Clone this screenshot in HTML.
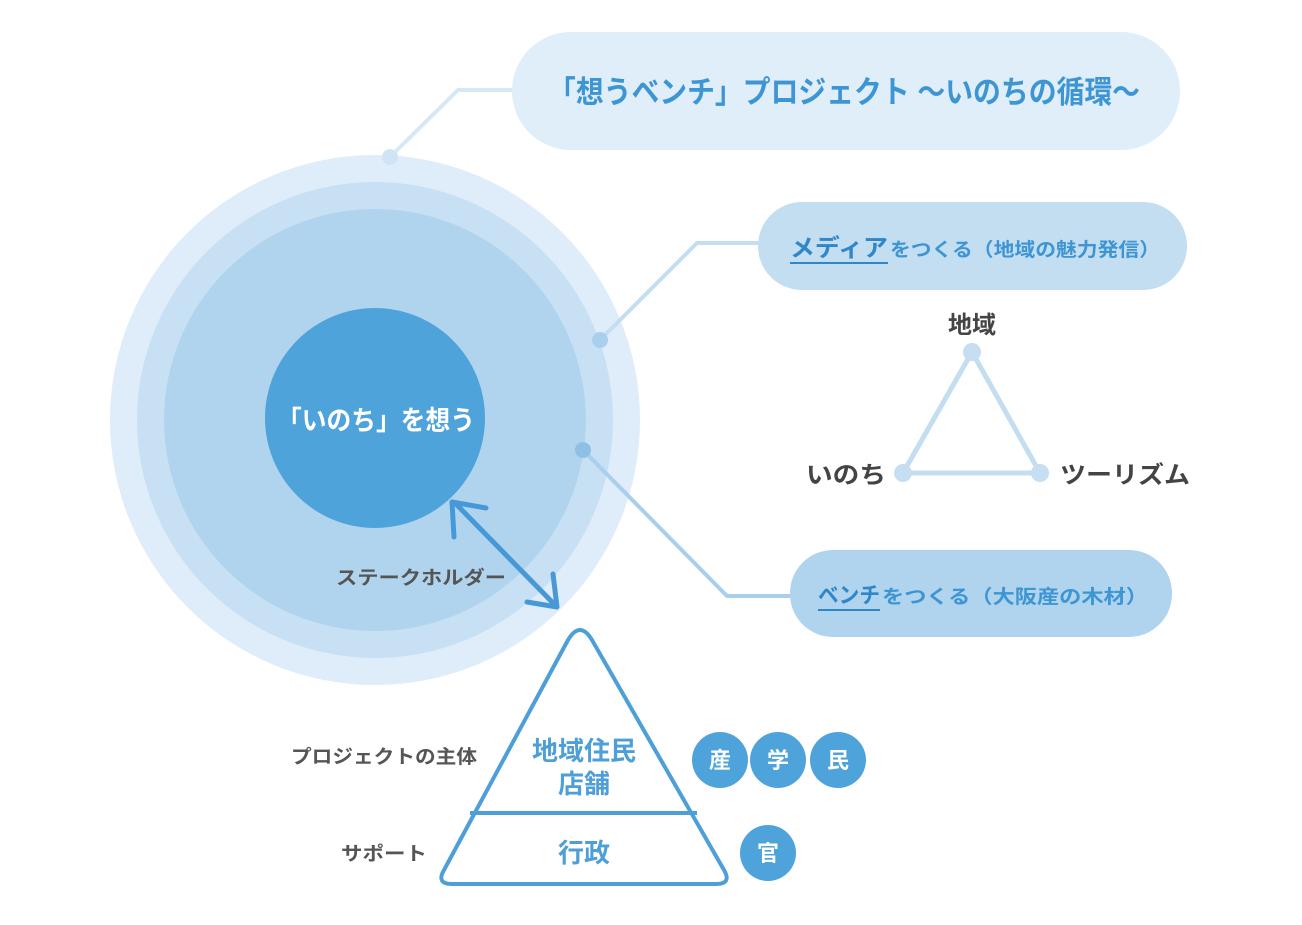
<!DOCTYPE html>
<html><head><meta charset="utf-8"><style>
body{margin:0;background:#fff}
text{font-family:"Liberation Sans","Noto Sans CJK JP",sans-serif;font-weight:bold}
</style></head><body>
<svg width="1302" height="920" viewBox="0 0 1302 920" xmlns="http://www.w3.org/2000/svg">
<rect width="1302" height="920" fill="#fff"/>
<polyline points="390,157 458,90 515,90" fill="none" stroke="#d6e8f6" stroke-width="4"/>
<rect x="512" y="32" width="668" height="118" rx="59" fill="#dfeef9"/>
<text x="548" y="103" font-size="31" fill="#3d95d3" textLength="592" lengthAdjust="spacingAndGlyphs">「想うベンチ」プロジェクト ～いのちの循環～</text>
<circle cx="375" cy="420" r="265" fill="#deedf9"/>
<circle cx="375" cy="420" r="238" fill="#c7e0f3"/>
<circle cx="375" cy="420" r="211" fill="#b1d4ee"/>
<circle cx="390" cy="157" r="8" fill="#cfe4f5"/>
<polyline points="600,340 697,243 760,243" fill="none" stroke="#c3ddf1" stroke-width="4"/>
<rect x="758" y="202" width="429" height="88" rx="44" fill="#c3ddf1"/>
<text x="790" y="256" font-size="24" fill="#2f87c9" textLength="98" lengthAdjust="spacingAndGlyphs">メディア</text>
<text x="890" y="256" font-size="19" fill="#3d95d3" textLength="270" lengthAdjust="spacingAndGlyphs">をつくる（地域の魅力発信）</text>
<line x1="790" y1="263" x2="888" y2="263" stroke="#2f87c9" stroke-width="2"/>
<circle cx="600" cy="340" r="8" fill="#a8cfec"/>
<polyline points="583,450 727,596 792,596" fill="none" stroke="#a9cfec" stroke-width="4"/>
<rect x="790" y="550" width="382" height="87" rx="43" fill="#b0d3ee"/>
<text x="818" y="603" font-size="22" fill="#2f87c9" textLength="62" lengthAdjust="spacingAndGlyphs">ベンチ</text>
<text x="882" y="603" font-size="19" fill="#3d95d3" textLength="266" lengthAdjust="spacingAndGlyphs">をつくる（大阪産の木材）</text>
<line x1="818" y1="610" x2="880" y2="610" stroke="#2f87c9" stroke-width="2"/>
<circle cx="583" cy="450" r="8" fill="#8ec0e6"/>
<circle cx="375" cy="418" r="110" fill="#4fa3db"/>
<text x="277" y="430" font-size="27" fill="#fff" textLength="198" lengthAdjust="spacingAndGlyphs">「いのち」を想う</text>
<g stroke="#4699d6" stroke-width="5" fill="none" stroke-linecap="round" stroke-linejoin="round">
<line x1="457" y1="505" x2="555" y2="605"/>
<polyline points="454,537 452,502 486,508"/>
<polyline points="527,602 557,607 553,574"/>
</g>
<text x="336" y="584" font-size="19" fill="#555" textLength="170" lengthAdjust="spacingAndGlyphs">ステークホルダー</text>
<polygon points="972,352 903,473 1040,473" fill="none" stroke="#c3ddf1" stroke-width="5" stroke-linejoin="round"/>
<circle cx="972" cy="352" r="9" fill="#c6def2"/>
<circle cx="903" cy="473" r="9" fill="#c6def2"/>
<circle cx="1040" cy="473" r="9" fill="#c6def2"/>
<text x="972" y="333" font-size="24" fill="#444" text-anchor="middle">地域</text>
<text x="806" y="483" font-size="24" fill="#444" textLength="80" lengthAdjust="spacingAndGlyphs">いのち</text>
<text x="1060" y="483" font-size="24" fill="#444" textLength="130" lengthAdjust="spacingAndGlyphs">ツーリズム</text>
<path d="M568,640 Q580,620 592,640 L724,870 Q732,884 716,884 L452,884 Q436,884 444,870 Z" fill="#fff" stroke="#4e9fd8" stroke-width="4" stroke-linejoin="round"/>
<line x1="470" y1="813" x2="697" y2="813" stroke="#4e9fd8" stroke-width="4"/>
<text x="584" y="760" font-size="26" fill="#4e9fd8" text-anchor="middle">地域住民</text>
<text x="584" y="793" font-size="26" fill="#4e9fd8" text-anchor="middle">店舗</text>
<text x="584" y="862" font-size="26" fill="#4e9fd8" text-anchor="middle">行政</text>
<text x="291" y="763" font-size="19" fill="#555" textLength="186" lengthAdjust="spacingAndGlyphs">プロジェクトの主体</text>
<text x="341" y="860" font-size="19" fill="#555" textLength="86" lengthAdjust="spacingAndGlyphs">サポート</text>
<g fill="#4fa3db">
<circle cx="720" cy="760" r="28"/><circle cx="778" cy="760" r="28"/><circle cx="838" cy="760" r="28"/><circle cx="768" cy="853" r="28"/>
</g>
<g font-size="22" fill="#fff" text-anchor="middle">
<text x="720" y="768">産</text><text x="778" y="768">学</text><text x="838" y="768">民</text><text x="768" y="861">官</text>
</g>
</svg>
</body></html>
